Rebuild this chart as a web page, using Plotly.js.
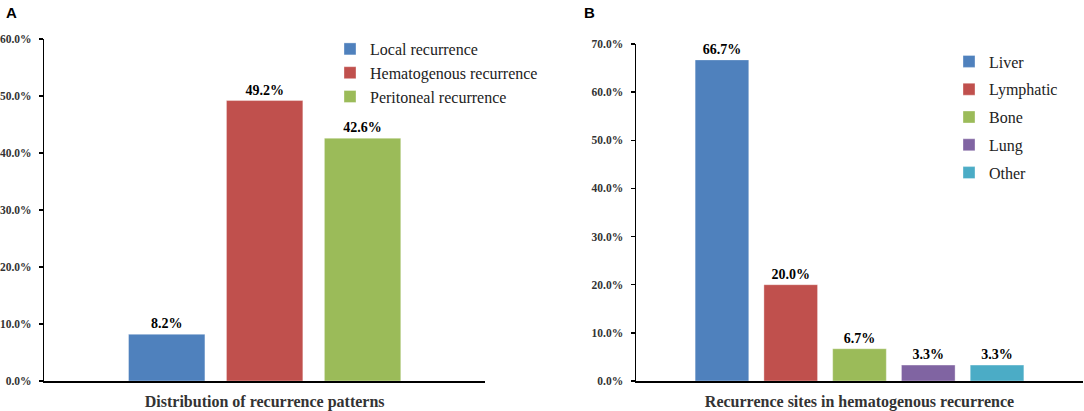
<!DOCTYPE html>
<html>
<head>
<meta charset="utf-8">
<script src="https://cdn.plot.ly/plotly-3.0.1.min.js"></script>
<style>
  html, body { margin: 0; padding: 0; background: #fff; }
  #chart { width: 1084px; height: 411px; }
</style>
</head>
<body>
<div id="chart"></div>
<script>
// panel A: distribution of recurrence patterns (%)
var patternNames = ['Local recurrence', 'Hematogenous recurrence', 'Peritoneal recurrence'];
var patternValues = [8.2, 49.2, 42.6];
var patternColors = ['#4F81BD', '#C0504D', '#9BBB59'];

// panel B: sites in hematogenous recurrence (%)
var siteNames = ['Liver', 'Lymphatic', 'Bone', 'Lung', 'Other'];
var siteValues = [66.7, 20.0, 6.7, 3.3, 3.3];
var siteColors = ['#4F81BD', '#C0504D', '#9BBB59', '#8064A2', '#4BACC6'];

var serif = 'Liberation Serif';
var W = 1084, H = 411;

function barTrace(name, value, color, xa, ya, leg) {
  return {
    type: 'bar',
    name: name,
    x: [name],
    y: [value],
    xaxis: xa,
    yaxis: ya,
    legend: leg,
    legendgroup: name,
    marker: { color: color, line: { color: 'rgba(255,255,255,0.35)', width: 1 } },
    texttemplate: '%{y:.1f}%',
    textposition: 'outside',
    textfont: { family: serif, size: 14, color: '#000', weight: 'bold' },
    cliponaxis: false,
    hoverinfo: 'name+y'
  };
}

var traces = [];
patternNames.forEach(function (n, i) {
  traces.push(barTrace(n, patternValues[i], patternColors[i], 'x', 'y', 'legend'));
});
siteNames.forEach(function (n, i) {
  traces.push(barTrace(n, siteValues[i], siteColors[i], 'x2', 'y2', 'legend2'));
});

function yAxis(max, dom, anchor) {
  return {
    domain: dom,
    anchor: anchor,
    range: [0, max],
    dtick: 10,
    tickformat: '.1f',
    ticksuffix: '%',
    ticks: 'outside',
    ticklen: 4,
    tickwidth: 1.3,
    tickcolor: '#000',
    ticklabelstandoff: 5,
    tickfont: { family: serif, size: 11.5, color: '#333', weight: 'bold' },
    showline: true,
    linecolor: '#000',
    linewidth: 1.5,
    showgrid: false,
    zeroline: false,
    fixedrange: true
  };
}

function xAxis(dom, anchor, n, title) {
  return {
    domain: dom,
    anchor: anchor,
    type: 'category',
    range: [-1.25, n - 1 + 1.25],
    showticklabels: false,
    ticks: '',
    showline: true,
    linecolor: '#000',
    linewidth: 1.5,
    showgrid: false,
    zeroline: false,
    fixedrange: true,
    title: { text: title, standoff: 14, font: { family: serif, size: 16, color: '#333', weight: 'bold' } }
  };
}

var legendFont = { family: serif, size: 16, color: '#222', weight: 'normal' };

var layout = {
  width: W,
  height: H,
  margin: { l: 0, r: 0, t: 0, b: 0 },
  font: { family: serif, color: '#222' },
  paper_bgcolor: '#fff',
  plot_bgcolor: '#fff',
  barmode: 'overlay',
  bargap: 0.22,
  showlegend: true,
  xaxis: xAxis([44.3 / W, 485 / W], 'y', patternNames.length, 'Distribution of recurrence patterns'),
  yaxis: yAxis(60, [30 / H, 372 / H], 'x'),
  xaxis2: xAxis([636 / W, 1083 / W], 'y2', siteNames.length, 'Recurrence sites in hematogenous recurrence'),
  yaxis2: yAxis(70, [30 / H, 367 / H], 'x2'),
  legend: {
    x: 330 / W, y: 1 - 32 / H, xanchor: 'left', yanchor: 'top',
    font: legendFont, tracegroupgap: 0, bgcolor: 'rgba(0,0,0,0)'
  },
  legend2: {
    x: 949 / W, y: 1 - 44.5 / H, xanchor: 'left', yanchor: 'top',
    font: legendFont, tracegroupgap: 4, bgcolor: 'rgba(0,0,0,0)'
  },
  annotations: [
    { text: 'A', xref: 'paper', yref: 'paper', x: 4 / W, y: 1 - 2 / H, xanchor: 'left', yanchor: 'top',
      showarrow: false, font: { family: 'Liberation Sans', size: 15, color: '#000', weight: 'bold' } },
    { text: 'B', xref: 'paper', yref: 'paper', x: 582 / W, y: 1 - 2 / H, xanchor: 'left', yanchor: 'top',
      showarrow: false, font: { family: 'Liberation Sans', size: 15, color: '#000', weight: 'bold' } }
  ]
};

Plotly.newPlot('chart', traces, layout, { displayModeBar: false, staticPlot: true });
</script>
</body>
</html>
